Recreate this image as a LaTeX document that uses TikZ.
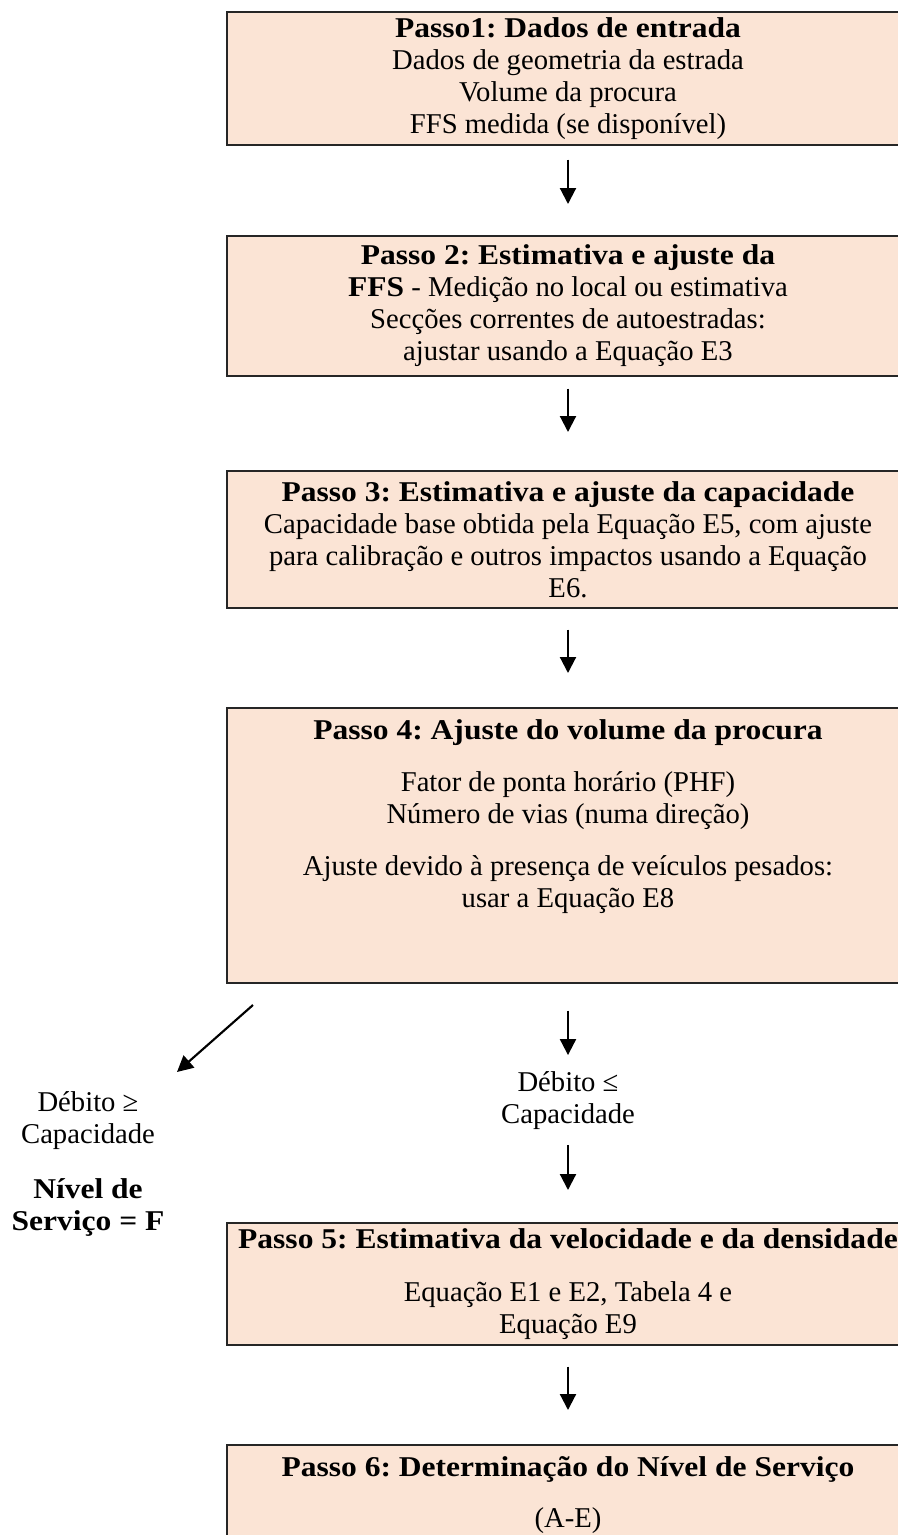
\documentclass[tikz,border=0pt]{standalone}
\usepackage{fontspec}
\setmainfont{Liberation Serif}[BoldFeatures={FakeStretch=1.1}]
\usetikzlibrary{arrows.meta,calc}
\definecolor{stepfill}{HTML}{FBE4D5}
\frenchspacing
\tikzset{
  stepbox/.style={draw=black!85, line width=1.2pt, fill=stepfill, anchor=north, align=center, minimum width=511.5pt},
  flow/.style={line width=1.6pt, -{Triangle[width=12pt,length=12pt]}},
  note/.style={align=center, inner sep=2pt}
}
\begin{document}
\begin{tikzpicture}[x=0.75pt, y=-0.75pt, font=\fontsize{21.5pt}{24pt}\selectfont]
\useasboundingbox (0,0) rectangle (898,1535);
\clip (0,0) rectangle (898,1535);

\node[stepbox, minimum height=99.75pt] (p1) at (568,11)
  {\textbf{Passo1: Dados de entrada}\\ Dados de geometria da estrada\\ Volume da procura\\ FFS medida (se disponível)};
\node[stepbox, minimum height=105pt] (p2) at (568,235)
  {\textbf{Passo 2: Estimativa e ajuste da}\\ \textbf{FFS} - Medição no local ou estimativa\\ Secções correntes de autoestradas:\\ ajustar usando a Equação E3};
\node[stepbox, minimum height=102.75pt] (p3) at (568,470)
  {\textbf{Passo 3: Estimativa e ajuste da capacidade}\\ Capacidade base obtida pela Equação E5, com ajuste\\ para calibração e outros impactos usando a Equação\\ E6.};
\node[stepbox, minimum height=206.25pt] (p4) at (568,707)
  {\textbf{Passo 4: Ajuste do volume da procura}\\[15pt] Fator de ponta horário (PHF)\\ Número de vias (numa direção)\\[15pt] Ajuste devido à presença de veículos pesados:\\ usar a Equação E8\\[24pt] \mbox{}};
\node[note] (ok) at (568,1101) {Débito ≤\\ Capacidade};
\node[stepbox, minimum height=91.5pt] (p5) at (568,1222)
  {\textbf{Passo 5: Estimativa da velocidade e da densidade}\\[16pt] Equação E1 e E2, Tabela 4 e\\ Equação E9};
\node[stepbox, minimum height=75pt] (p6) at (568,1444)
  {\textbf{Passo 6: Determinação do Nível de Serviço}\\[14pt] (A-E)};
\node[note] (fail) at (88,1164) {Débito ≥\\ Capacidade\\[17pt] \textbf{Nível de}\\ \textbf{Serviço = F}};

\foreach \a/\b/\s/\e in {p1/p2/14/31, p2/p3/12/38, p3/p4/21/34, p4/ok/27/14, ok/p5/12/32, p5/p6/21/34}
  \draw[flow] ($(\a.south)+(0,\s)$) -- ($(\b.north)+(0,-\e)$);

\coordinate (fork) at (253,1005);
\coordinate (tipF) at (177,1072);
\draw[flow] (fork) -- (tipF);
\end{tikzpicture}
\end{document}
